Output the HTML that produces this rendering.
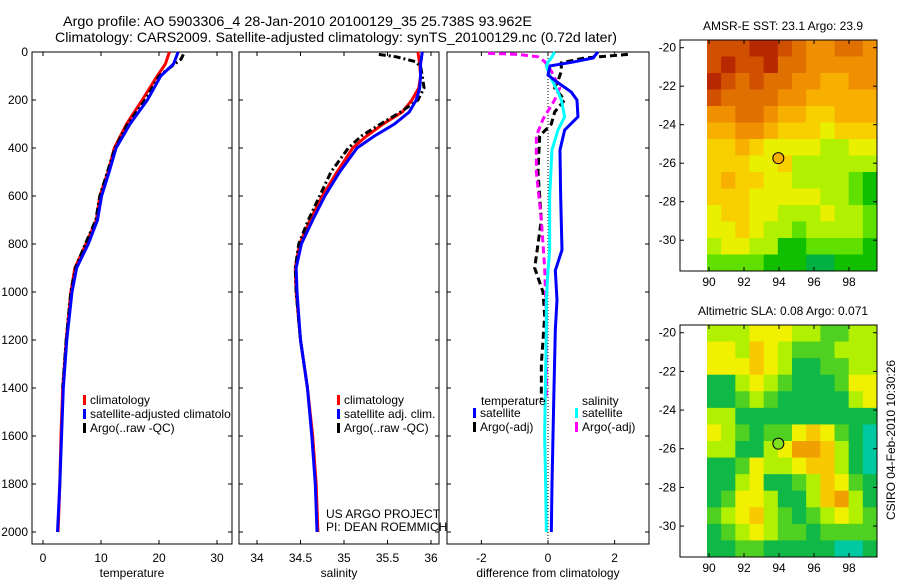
<!DOCTYPE html>
<html><head><meta charset="utf-8"><style>
body{margin:0;background:#fff;}
svg{display:block;font-family:"Liberation Sans",sans-serif;}
text{fill:#000;}
</style></head><body>
<svg id="s" width="900" height="580" xmlns="http://www.w3.org/2000/svg">
<text x="63" y="26" font-size="14" textLength="469" lengthAdjust="spacingAndGlyphs">Argo profile: AO 5903306_4 28-Jan-2010 20100129_35 25.738S 93.962E</text>
<text x="55" y="42" font-size="14" textLength="562" lengthAdjust="spacingAndGlyphs">Climatology: CARS2009. Satellite-adjusted climatology: synTS_20100129.nc (0.72d later)</text>
<g id="g"></g>
</svg>
<script>
const depthsT=[0,50,100,200,300,400,500,600,700,800,900,1000,1200,1400,1600,1800,2000];
const tempClim=[21.8,21.1,19.7,17.1,14.4,12.3,11.2,9.8,9.2,7.4,5.5,4.8,4.0,3.4,3.1,2.9,2.6];
const tempSat=[23.3,22.5,20.3,18.0,15.0,12.6,11.4,10.1,9.4,7.8,5.8,5.0,4.1,3.5,3.2,2.9,2.5];
const depthsArgoT=[10,30,50,100,200,300,400,500,600,700,800,900,1000,1200,1400];
const tempArgo=[24.2,23.8,22.7,20.0,17.6,14.6,12.4,11.1,9.8,9.1,7.3,5.6,4.8,4.0,3.4];
const depthsS=[0,50,100,150,200,250,300,350,400,500,600,700,800,900,1000,1200,1400,1600,1800,2000];
const salClim=[35.85,35.87,35.88,35.86,35.78,35.67,35.45,35.26,35.10,34.92,34.75,34.61,34.49,34.44,34.45,34.5,34.58,34.64,34.68,34.70];
const salSat=[35.9,35.88,35.88,35.87,35.83,35.75,35.58,35.35,35.15,34.95,34.78,34.64,34.51,34.45,34.46,34.5,34.58,34.63,34.67,34.69];
const depthsArgoS=[10,20,40,60,100,150,200,250,300,350,400,500,600,700,800,900,1000,1200,1400];
const salArgo=[35.40,35.6,35.82,35.88,35.9,35.92,35.85,35.65,35.42,35.2,35.05,34.85,34.72,34.59,34.48,34.44,34.45,34.5,34.58];
const depthsD=[0,25,42,58,96,125,167,200,270,325,408,600,825,910,1033,1158,1400,1600,1800,2000];
const diffTSat=[1.5,1.35,0.75,0.06,0,0.27,0.7,0.87,0.9,0.5,0.36,0.38,0.42,0.22,0.27,0.22,0.18,0.15,0.12,0.1];
const diffSSat=[0.2,0.1,0,-0.05,0.05,0.15,0.3,0.4,0.5,0.3,0.12,0.05,0.05,0,-0.05,-0.05,-0.08,-0.1,-0.07,-0.05];
const depthsDA=[10,25,45,80,120,150,200,250,300,350,500,700,800,900,1000,1100,1200,1300,1450];
const diffTArgo=[2.4,1.1,0.4,0.4,0.3,0.2,0.5,0.2,0.1,-0.25,-0.3,-0.2,-0.3,-0.4,-0.15,-0.1,-0.15,-0.2,-0.2];
const depthsDS=[5,10,20,40,80,150,200,280,350,500,700,900,1100,1450];
const diffSArgo=[-1.8,-0.9,-0.3,-0.1,0.1,0.35,0.2,-0.15,-0.35,-0.35,-0.2,-0.1,-0.05,-0.05];
const sstGrid=[
[9,9,9,10,10,9,8,7,7,8,8,7],[9,10,9,9,10,8,8,7,7,7,7,7],[10,9,8,9,8,8,7,7,6,6,7,7],
[9,8,8,8,8,7,7,6,6,6,6,6],[7,7,8,8,7,6,6,5,5,6,6,6],[6,6,7,7,6,5,5,5,4,5,5,5],
[5,5,6,5,4,4,4,4,3,3,4,4],[5,5,5,4,4,5,3,3,3,3,3,3],[5,6,5,5,4,4,3,3,3,3,2,1],
[5,5,5,4,4,4,4,4,3,3,2,1],[4,5,5,4,4,3,3,3,4,3,3,2],[4,4,5,4,3,3,2,3,3,3,3,2],
[3,4,4,3,3,1,1,2,2,2,2,1],[2,2,2,2,1,1,1,0,0,1,1,1]];
const slaGrid=[
[3,3,3,4,4,4,3,3,2,2,3,3],[4,4,3,5,4,3,2,2,2,3,3,3],[4,4,4,5,4,3,1,1,2,2,3,3],
[1,1,3,4,3,2,1,1,1,2,4,4],[1,1,2,3,2,1,1,1,1,1,3,4],[3,3,1,1,1,1,1,1,1,1,1,1],
[4,3,2,1,2,2,4,5,4,2,1,0],[3,3,1,1,3,4,6,6,5,3,1,0],[1,1,2,4,3,3,4,5,5,3,1,0],
[1,1,3,4,1,1,2,3,5,4,2,1],[1,2,4,4,3,1,1,3,5,6,3,1],[2,3,4,5,3,2,1,2,3,4,3,2],
[1,2,3,4,3,2,2,1,2,2,2,2],[1,1,2,2,1,1,1,1,1,0,0,1]];
const tempTicks=[0,10,20,30],salTicks=[34,34.5,35,35.5,36],diffTicks=[-2,0,2],depthTicks=[0,200,400,600,800,1000,1200,1400,1600,1800,2000];
const latTicks=[-20,-22,-24,-26,-28,-30],lonTicks=[90,92,94,96,98];

const NS='http://www.w3.org/2000/svg',G=document.getElementById('g');
function mk(t,a,p){const e=document.createElementNS(NS,t);for(const k in a)e.setAttribute(k,a[k]);(p||G).appendChild(e);return e;}
const yD=d=>52+0.24*d;
const xT=t=>43+5.8*t, xS=s=>257+87*(s-34), xDf=v=>548+33.3*v;
function panel(x0,x1,name,xt,fx,lbl,yl,title){
  const b=mk('rect',{x:x0,y:52,width:x1-x0,height:492,fill:'none',stroke:'#000','stroke-width':1});
  
  depthTicks.forEach(d=>{const y=yD(d);
    mk('line',{x1:x0,x2:x0+4,y1:y,y2:y,stroke:'#000'});mk('line',{x1:x1-4,x2:x1,y1:y,y2:y,stroke:'#000'});
    if(yl){const t=mk('text',{x:x0-4,y:y+4,'font-size':12,'text-anchor':'end'});t.textContent=d;
      }});
  xt.forEach(v=>{const x=fx(v);mk('line',{x1:x,x2:x,y1:52,y2:56,stroke:'#000'});mk('line',{x1:x,x2:x,y1:540,y2:544,stroke:'#000'});
    const t=mk('text',{x:x,y:562,'font-size':12,'text-anchor':'middle'});t.textContent=v;
    });
  const t=mk('text',{x:(x0+x1)/2,y:577,'font-size':12,'text-anchor':'middle'});t.textContent=title;
  
}
function line(ds,vs,fx,col,w,dash,name){
  const p=mk('polyline',{points:ds.map((d,i)=>fx(vs[i])+','+yD(d)).join(' '),fill:'none',stroke:col,'stroke-width':w,'stroke-dasharray':dash||'none'});
  
}
function legend(x,y,items,name){items.forEach((it,i)=>{const yy=y+i*14;
  mk('rect',{x:x,y:yy-9,width:3,height:10,fill:it[1]});
  const t=mk('text',{x:x+7,y:yy,'font-size':12});t.textContent=it[0];
  });}

panel(32,232,'temperature-panel',tempTicks,xT,0,1,'temperature');
line(depthsT,tempClim,xT,'#f00',3,null,'temp-climatology-line');
line(depthsArgoT,tempArgo,xT,'#000',3,'7,3,2,3','temp-argo-line');
line(depthsT,tempSat,xT,'#00f',3,null,'temp-satellite-line');
legend(83,404,[['climatology','#f00'],['satellite-adjusted climatolo','#00f'],['Argo(..raw -QC)','#000']],'temp-legend');

panel(239,439,'salinity-panel',salTicks,xS,0,0,'salinity');
line(depthsS,salClim,xS,'#f00',3,null,'sal-climatology-line');
line(depthsArgoS,salArgo,xS,'#000',3,'7,3,2,3','sal-argo-line');
line(depthsS,salSat,xS,'#00f',3,null,'sal-satellite-line');
legend(337,404,[['climatology','#f00'],['satellite adj. clim.','#00f'],['Argo(..raw -QC)','#000']],'sal-legend');
[['US ARGO PROJECT',518],['PI: DEAN ROEMMICH',531]].forEach(a=>{const t=mk('text',{x:326,y:a[1],'font-size':12});t.textContent=a[0];
  });

panel(447,649,'difference-panel',diffTicks,xDf,0,0,'difference from climatology');
mk('line',{x1:548,x2:548,y1:52,y2:544,stroke:'#000','stroke-dasharray':'1,2'});
line(depthsDA,diffTArgo,xDf,'#000',3,'7,4','diff-temp-argo-line');
line(depthsDS,diffSArgo,xDf,'#f0f',3,'7,4','diff-sal-argo-line');
line(depthsD,diffSSat,xDf,'#0ff',3,null,'diff-sal-satellite-line');
line(depthsD,diffTSat,xDf,'#00f',3,null,'diff-temp-satellite-line');
{const t=mk('text',{x:481,y:405,'font-size':12});t.textContent='temperature';
 const u=mk('text',{x:582,y:405,'font-size':12});u.textContent='salinity';}
legend(473,417,[['satellite','#00f'],['Argo(-adj)','#000']],'diff-temp-legend');
legend(575,417,[['satellite','#0ff'],['Argo(-adj)','#f0f']],'diff-sal-legend');

const sstCols=['#00b040','#10c000','#60e000','#b0f000','#e8f000','#f8d000','#f8b000','#f09000','#e07000','#d05000','#b82800'];
const slaCols=['#00c8a0','#10b848','#50d020','#b0f000','#f0f000','#f8c800','#f0a000'];
function map(top,bot,grid,cols,name,title,circ){
  const x0=707,x1=877,nR=grid.length,nC=grid[0].length,cw=(x1-x0)/nC,ch=(bot-top)/nR;
  grid.forEach((row,r)=>row.forEach((v,c)=>{const e=mk('rect',{x:x0+c*cw,y:top+r*ch,width:cw+0.5,height:ch+0.5,fill:cols[v]});
    }));
  const f=mk('rect',{x:680,y:top,width:197,height:bot-top,fill:'none',stroke:'#000'});
  
  const pxLat=(bot-top)/12.0, yL=l=>top+(-19.6-l)*pxLat, xL=o=>709+17.5*(o-90);
  latTicks.forEach(l=>{const y=yL(l);mk('line',{x1:680,x2:684,y1:y,y2:y,stroke:'#000'});mk('line',{x1:873,x2:877,y1:y,y2:y,stroke:'#000'});
    const t=mk('text',{x:676,y:y+4,'font-size':12,'text-anchor':'end'});t.textContent=l;});
  lonTicks.forEach(o=>{const x=xL(o);mk('line',{x1:x,x2:x,y1:top,y2:top+4,stroke:'#000'});mk('line',{x1:x,x2:x,y1:bot-4,y2:bot,stroke:'#000'});
    const t=mk('text',{x:x,y:bot+15,'font-size':12,'text-anchor':'middle'});t.textContent=o;});
  const c=mk('circle',{cx:xL(93.962),cy:yL(-25.738),r:5.5,fill:circ,stroke:'#000'});
  
  const t=mk('text',{x:783,y:top-10,'font-size':12,'text-anchor':'middle'});t.textContent=title;
  
}
map(40,271,sstGrid,sstCols,'sst-map','AMSR-E SST: 23.1 Argo: 23.9','#f8b000');
map(325,557,slaGrid,slaCols,'sla-map','Altimetric SLA: 0.08 Argo: 0.071','#80e020');
{const t=mk('text',{x:0,y:0,'font-size':12,'text-anchor':'middle',transform:'translate(895,440) rotate(-90)'});t.textContent='CSIRO 04-Feb-2010 10:30:26';
 }
</script>
</body></html>
